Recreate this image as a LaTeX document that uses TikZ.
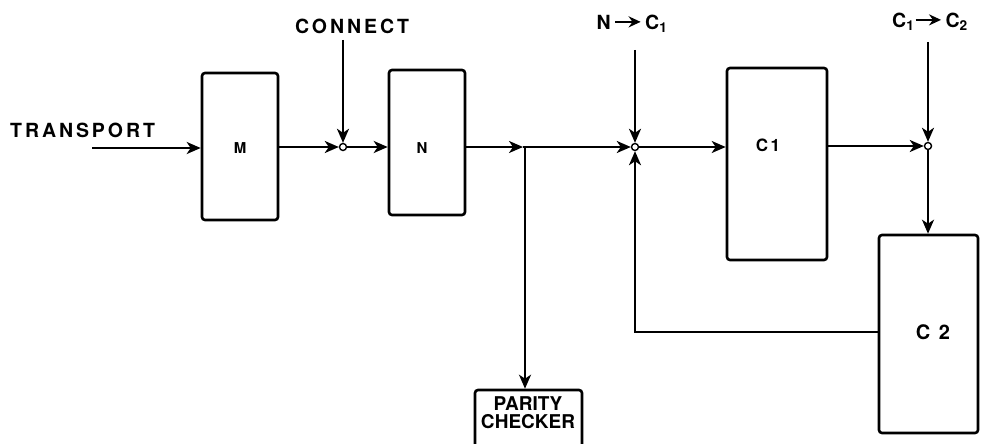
\documentclass[tikz,border=0pt]{standalone}
\usepackage{fontspec}
\setmainfont{TeX Gyre Heros}
\newfontfamily\labfont[LetterSpace=15]{TeX Gyre Heros}
\usetikzlibrary{arrows.meta}
\begin{document}
\begin{tikzpicture}[x=1pt,y=-1pt,
  box/.style={draw,line width=2.6pt,rounded corners=3pt,inner sep=0pt},
  wire/.style={line width=2.2pt},
  arr/.style={wire,-{Stealth[length=14pt,width=12pt,inset=4pt]}},
  junc/.style={circle,draw,fill=white,line width=1.4pt,inner sep=0pt,minimum size=7pt},
  lab/.style={font=\fontsize{19.5}{20}\selectfont\labfont\bfseries,inner sep=0pt},
  blab/.style={font=\fontsize{15}{16}\selectfont\labfont\bfseries,inner sep=0pt}]
\useasboundingbox (0,0) rectangle (982,444);
% boxes
\node[box,minimum width=76pt,minimum height=147pt] (M) at (240,146.5) {};
\node[box,minimum width=76pt,minimum height=145pt] (N) at (427,142.5) {};
\node[box,minimum width=100pt,minimum height=192pt] (C1) at (777,164) {};
\node[box,minimum width=99pt,minimum height=198pt] (C2) at (928.5,334) {};
\node[box,minimum width=107pt,minimum height=62pt] (P) at (528.5,421) {};
% box labels
\node[blab] (Ml) at (240,148) {M};
\node[blab] (Nl) at (422,148) {N};
\node[blab,font=\fontsize{17}{18}\selectfont\labfont\bfseries] (C1l) at (768,145) {C1};
\node[blab,font=\fontsize{20}{21}\selectfont\labfont\bfseries] (C2l) at (933,332) {C 2};
\node[font=\fontsize{19}{19}\selectfont\bfseries,inner sep=0pt,align=center] (Pl) at (528,413) {PARITY\\[-1pt]CHECKER};
% outside labels
\node[lab,anchor=west] (tr) at (10,130) {TRANSPORT};
\node[lab] (con) at (352,26) {CONNECT};
\node[lab] (nc) at (632,24) {N\,\tikz[baseline=-0.1em]\draw[line width=2.6pt,-{Stealth[length=12pt,width=11pt]}] (0,0.3em)--(1.3em,0.3em);\,C$_{\mathbf 1}$};
\node[lab] (cc) at (930,22) {C$_{\mathbf 1}$\tikz[baseline=-0.1em]\draw[line width=2.6pt,-{Stealth[length=12pt,width=11pt]}] (0,0.3em)--(1.3em,0.3em);\,C$_{\mathbf 2}$};
% junctions and coordinates
\node[junc] (J1) at (343,147) {};
\node[junc] (J2) at (635,147) {};
\node[junc] (J3) at (928,146) {};
\coordinate (T0) at (92,148);
\coordinate (B) at (525,147);
\coordinate (Bm) at (523,147);
\coordinate (F) at (635,332);
\coordinate (cT) at (343,40);
\coordinate (nT) at (635,50);
\coordinate (ccT) at (928,42);
% connectors
\draw[arr] (T0) -- (M.west |- T0);
\draw[arr] (M.east |- J1) -- (J1);
\draw[arr] (J1) -- (N.west |- J1);
\draw[arr] (N.east |- J1) -- (Bm);
\draw[wire] (Bm) -- (B);
\draw[arr] (B) -- (J2);
\draw[arr] (B) -- (P.north -| B);
\draw[arr] (J2) -- (C1.west |- J2);
\draw[arr] (C1.east |- J3) -- (J3);
\draw[arr] (J3) -- (C2.north -| J3);
\draw[arr] (C2.west |- F) -- (F) -- (J2);
\draw[arr] (cT) -- (J1);
\draw[arr] (nT) -- (J2);
\draw[arr] (ccT) -- (J3);
\end{tikzpicture}
\end{document}
